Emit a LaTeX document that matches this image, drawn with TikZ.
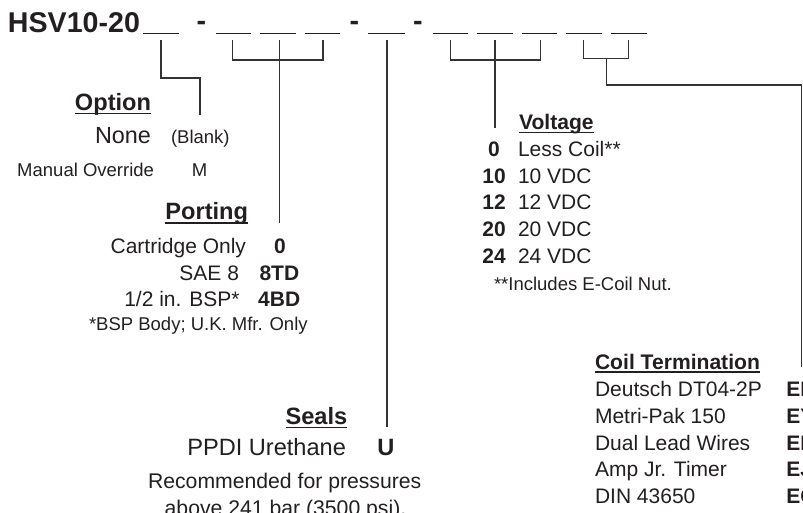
\documentclass[tikz,border=0pt]{standalone}
\usepackage{fontspec}
\setmainfont{Liberation Sans}
\newcommand\setfs[1]{\fontsize{#1}{#1}\selectfont}
\definecolor{ink}{HTML}{231F20}
\definecolor{linec}{HTML}{333333}
\begin{document}
\begin{tikzpicture}[x=1pt,y=-1pt,
  txt/.style={inner sep=0pt, outer sep=0pt, text=ink},
  conn/.style={draw=linec, line width=1.3pt},
  slotline/.style={draw=ink, line width=1.4pt},
  uline/.style={draw=ink, line width=1.5pt},
  ttl/.style={txt, font=\bfseries\setfs{28.6}},
  hdr/.style={txt, font=\bfseries\setfs{23.6}},
  hdrs/.style={txt, font=\bfseries\setfs{21.1}},
  big/.style={txt, font=\setfs{23.4}},
  mid/.style={txt, font=\setfs{21}},
  midb/.style={txt, font=\bfseries\setfs{21}},
  sml/.style={txt, font=\setfs{18.5}}]
\clip (0,0) rectangle (803,513);
\path[use as bounding box] (0,0) rectangle (803,513);

% ---- title
\node[ttl, anchor=base west] (title) at (8,33) {HSV10-20};
\node[ttl, anchor=base] (hy1) at (201.5,30.5) {-};
\node[ttl, anchor=base] (hy2) at (354.5,30.5) {-};
\node[ttl, anchor=base] (hy3) at (418,30.5) {-};

\foreach \a/\b [count=\i] in {143/179, 216/251, 260/296, 305/340, 368/405,
  432.7/468, 476.7/513, 521.7/557, 566/601.7, 611/646.7}{
  \coordinate (sl\i) at (\a,33.5);
  \coordinate (sr\i) at (\b,33.5);
  \draw[slotline] (sl\i) -- (sr\i);
}

% ---- connector tops
\coordinate (c1) at (161,40);
\coordinate (c2) at (232.3,40);
\coordinate (c3) at (279.3,40);
\coordinate (c4) at (323,40);
\coordinate (c5) at (387,40);
\coordinate (c6) at (450.7,40);
\coordinate (c7) at (495,40);
\coordinate (c8) at (540.7,40);
\coordinate (c9) at (583.3,40);
\coordinate (c10) at (628.3,40);

% option
\coordinate (optJ) at (200,78);
\coordinate (optE) at (200,115);
\draw[conn] (c1) |- (optJ) -- (optE);
% porting
\coordinate (pJ) at (279.3,60);
\coordinate (pE) at (279.3,223);
\draw[conn] (c2) |- (pJ) -| (c4);
\draw[conn] (c3) -- (pE);
% seals
\coordinate (sE) at (387,427);
\draw[conn] (c5) -- (sE);
% voltage
\coordinate (vJ) at (495,60);
\coordinate (vE) at (495,128);
\draw[conn] (c6) |- (vJ) -| (c8);
\draw[conn] (c7) -- (vE);
% coil termination
\coordinate (kJ) at (606.7,58.3);
\coordinate (kK) at (801.7,85);
\coordinate (kE) at (801.7,367);
\draw[conn] (c9) |- (kJ) -| (c10);
\draw[conn] (kJ) |- (kK) -- (kE);

% ---- Option
\node[hdr, anchor=base east] (optH) at (151,110.5) {Option};
\draw[uline] ([yshift=-3pt]optH.base west) -- ([yshift=-3pt]optH.base east);
\node[big, anchor=base east] (none) at (151,144) {None};
\node[sml, anchor=base west] (blank) at (171,144) {(Blank)};
\node[sml, anchor=base east] (manual) at (154,177) {Manual Override};
\node[sml, anchor=base] (mcode) at (199.7,177) {M};

% ---- Porting
\node[hdr, anchor=base east] (portH) at (248,220) {Porting};
\draw[uline] ([yshift=-3pt]portH.base west) -- ([yshift=-3pt]portH.base east);
\node[mid, anchor=base east] (cart) at (246,253) {Cartridge Only};
\node[midb, anchor=base] (p0) at (280,253) {0};
\node[mid, anchor=base east] (sae) at (239,280) {SAE 8};
\node[midb, anchor=base] (p8) at (279.4,280) {8TD};
\node[mid, anchor=base east] (bsp) at (239.5,306.7) {1/2 in. BSP*};
\node[midb, anchor=base] (p4) at (279.2,306.7) {4BD};
\node[sml, anchor=base west] (bspn) at (89,330) {*BSP Body; U.K. Mfr. Only};

% ---- Seals
\node[hdr, anchor=base east] (sealH) at (347.3,424.5) {Seals};
\draw[uline] ([yshift=-3pt]sealH.base west) -- ([yshift=-3pt]sealH.base east);
\node[txt, font=\setfs{23.6}, anchor=base east] (ppdi) at (346,455) {PPDI Urethane};
\node[txt, font=\bfseries\setfs{23.6}, anchor=base] (ucode) at (386,455) {U};
\node[txt, font=\setfs{21.2}, anchor=base] (rec1) at (284.7,488.3) {Recommended for pressures};
\node[txt, font=\setfs{21.2}, anchor=base] (rec2) at (285.5,515) {above 241 bar (3500 psi).};

% ---- Voltage
\node[hdrs, anchor=base west] (voltH) at (519,129.5) {Voltage};
\draw[uline] ([yshift=-3pt]voltH.base west) -- ([yshift=-3pt]voltH.base east);
\foreach \n/\t/\yy in {0/Less Coil**/156.7, 10/10 VDC/183.3, 12/12 VDC/210, 20/20 VDC/236.7, 24/24 VDC/263.3}{
  \node[midb, anchor=base] (vn\n) at (494,\yy) {\n};
  \node[mid, anchor=base west] (vt\n) at (518,\yy) {\t};
}
\node[sml, anchor=base west] (vnote) at (494,290) {**Includes E-Coil Nut.};

% ---- Coil Termination
\node[hdrs, anchor=base west] (coilH) at (595,369) {Coil Termination};
\draw[uline] ([yshift=-3pt]coilH.base west) -- ([yshift=-3pt]coilH.base east);
\foreach \t/\c/\yy [count=\k] in {Deutsch DT04-2P/ED/396.7, Metri-Pak 150/EY/423.4, Dual Lead Wires/EL/450, Amp Jr. Timer/EJ/476.7, DIN 43650/EG/503.3}{
  \node[mid, anchor=base west] (ct\k) at (595,\yy) {\t};
  \node[midb, anchor=base west] (cc\k) at (786.3,\yy) {\c};
}
\end{tikzpicture}
\end{document}
